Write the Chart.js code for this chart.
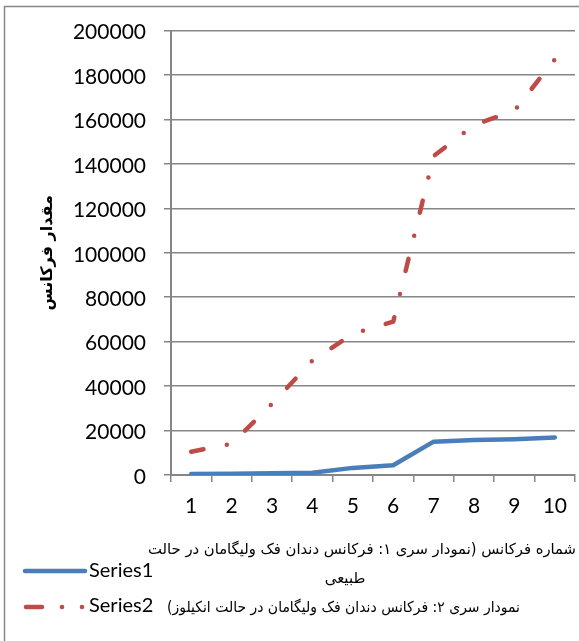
<!DOCTYPE html>
<html>
<head>
<meta charset="utf-8">
<script src="https://cdn.jsdelivr.net/npm/chart.js@4.4.1/dist/chart.umd.min.js"></script>
<style>
  html, body { margin: 0; padding: 0; background: #fff; }
  #wrap { width: 579px; height: 641px; position: relative; }
</style>
</head>
<body>
<div id="wrap"><canvas id="frekans" width="579" height="641"></canvas></div>
<script>
// شماره فرکانس 1..10
const categories = ['1', '2', '3', '4', '5', '6', '7', '8', '9', '10'];
const series1 = [400, 600, 800, 1000, 3200, 4400, 15000, 15700, 16100, 16900];
const series2 = [10500, 14000, 32000, 51500, 63500, 69000, 143500, 157500, 164000, 187000];
const seriesNames = ['Series1', 'Series2'];
const yMax = 200000;
const yStep = 20000;
const yTitle = 'مقدار فرکانس';
const noteLines = [
    'شماره فرکانس (نمودار سری ۱: فرکانس دندان فک ولیگامان در حالت',
    'طبیعی',
    'نمودار سری ۲: فرکانس دندان فک ولیگامان در حالت انکیلوز)'
];

const blue = '#4A7EBB';
const red = '#BE4B48';
const gray = '#868686';

const legendPlugin = {
    id: 'legendNotes',
    beforeDraw(chart) {
        const c = chart.ctx;
        c.save();
        c.strokeStyle = gray;
        c.lineWidth = 1.5;
        c.strokeRect(4.5, 6.5, 700, 700);
        c.restore();
    },
    afterDraw(chart) {
        const c = chart.ctx;
        c.save();
        c.lineCap = 'round';
        c.lineWidth = 4.5;
        // series1 sample
        c.strokeStyle = blue;
        c.beginPath();
        c.moveTo(25, 571);
        c.lineTo(85, 571);
        c.stroke();
        // series2 sample
        c.strokeStyle = red;
        c.beginPath();
        c.moveTo(26, 607);
        c.lineTo(42, 607);
        c.stroke();
        c.fillStyle = red;
        [62, 82].forEach(x => {
            c.beginPath();
            c.arc(x, 607, 2.3, 0, Math.PI * 2);
            c.fill();
        });

        c.fillStyle = '#000';
        c.textBaseline = 'middle';
        c.textAlign = 'left';
        c.font = '20px Lato';
        c.fillText(seriesNames[0], 89, 571);
        c.fillText(seriesNames[1], 89, 606);

        c.textBaseline = 'alphabetic';
        c.direction = 'rtl';
        c.font = '15px "DejaVu Sans", serif';
        c.textAlign = 'right';
        c.fillText(noteLines[0], 576, 554, 428);
        c.textAlign = 'center';
        c.fillText(noteLines[1], 345, 583);
        c.textAlign = 'right';
        c.fillText(noteLines[2], 520, 612, 353);
        c.restore();
    }
};

const ctx = document.getElementById('frekans').getContext('2d');
new Chart(ctx, {
    type: 'line',
    data: {
        labels: categories,
        datasets: [{
            label: seriesNames[0],
            data: series1,
            borderColor: blue,
            borderWidth: 4.5,
            borderCapStyle: 'round',
            borderJoinStyle: 'round',
            pointRadius: 0,
            tension: 0
        }, {
            label: seriesNames[1],
            data: series2,
            borderColor: red,
            borderWidth: 4.5,
            borderCapStyle: 'round',
            borderJoinStyle: 'round',
            borderDash: [12.5, 23.75, 0, 23.75],
            pointRadius: 0,
            tension: 0
        }]
    },
    options: {
        responsive: false,
        animation: false,
        devicePixelRatio: 1,
        layout: { padding: { top: 29, right: 0, bottom: 0, left: 0 } },
        plugins: {
            legend: { display: false },
            tooltip: { enabled: false }
        },
        scales: {
            x: {
                offset: true,
                grid: {
                    offset: true,
                    drawOnChartArea: false,
                    drawTicks: true,
                    tickLength: 7,
                    color: gray,
                    lineWidth: 1.5
                },
                border: { color: gray, width: 2 },
                ticks: {
                    color: '#000',
                    font: { family: 'Lato', size: 21 },
                    padding: 12,
                    maxRotation: 0,
                    autoSkip: false
                },
                afterFit(scale) { scale.height = 166; }
            },
            y: {
                min: 0,
                max: yMax,
                ticks: {
                    stepSize: yStep,
                    color: '#000',
                    font: { family: 'Lato', size: 21 },
                    padding: 18,
                    labelOffset: 2,
                    callback: v => String(v)
                },
                grid: {
                    color: gray,
                    lineWidth: 1.5,
                    tickLength: 7
                },
                border: { color: gray, width: 2 },
                title: {
                    display: true,
                    text: yTitle,
                    color: '#000',
                    font: { family: 'DejaVu Sans', size: 16, weight: 'bold' },
                    padding: { top: 38, bottom: 0 }
                },
                afterFit(scale) { scale.width = 171; }
            }
        }
    },
    plugins: [legendPlugin]
});
</script>
</body>
</html>
